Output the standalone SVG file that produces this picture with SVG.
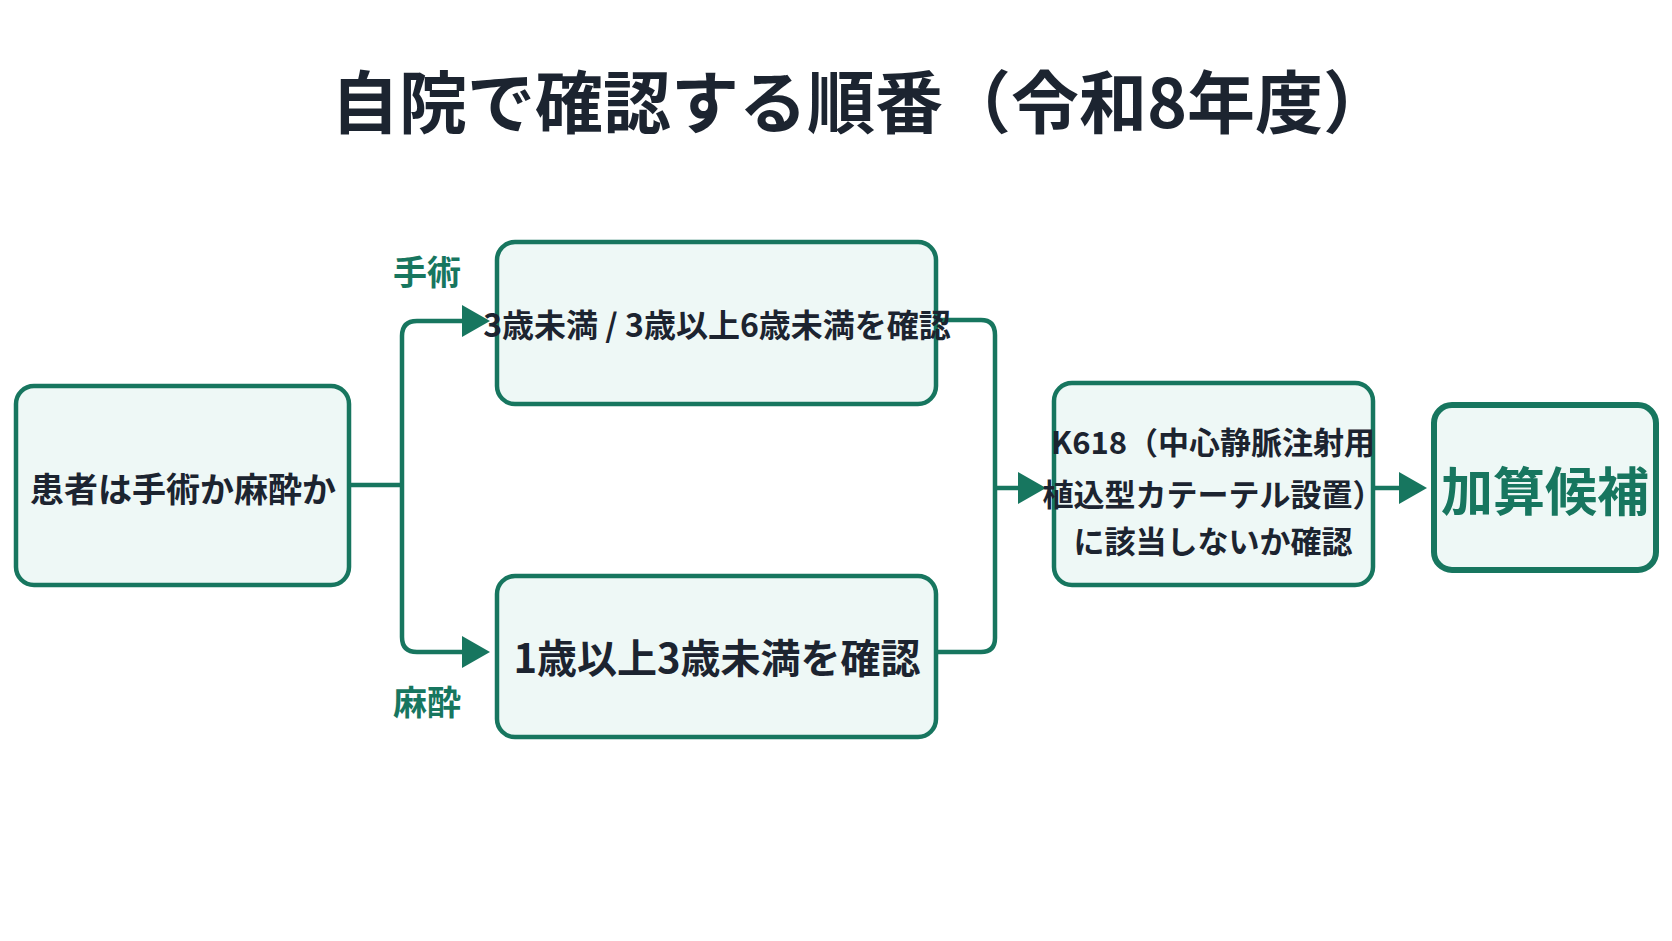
<svg xmlns="http://www.w3.org/2000/svg" width="1672" height="941" viewBox="0 0 1672 941">
<defs>
<style>
.box{fill:#eef8f6;stroke:#17765f;stroke-width:4.5}
.t{font-family:"Noto Sans CJK JP","Noto Sans",sans-serif;font-weight:700;fill:#1c2430;text-anchor:middle;dominant-baseline:central}
.g{fill:#17765f}
.c{fill:none;stroke:#17765f;stroke-width:4.5;stroke-linejoin:round}
</style>
<marker id="ah" markerWidth="8" markerHeight="8" refX="5" refY="4" orient="auto" markerUnits="userSpaceOnUse" viewBox="0 0 8 8"><path d="M0,0 L8,4 L0,8 z" fill="#17765f"/></marker>
</defs>
<rect width="1672" height="941" fill="#ffffff"/>
<text class="t" x="861" y="98" font-size="68">自院で確認する順番（令和8年度）</text>
<g id="connectors">
<path class="c" d="M349,485 H402"/>
<path class="c" d="M402,485 V336 Q402,321 417,321 H462"/>
<path class="c" d="M402,485 V637 Q402,652 417,652 H462"/>
<polygon class="g" points="462,305 490,321 462,337"/>
<polygon class="g" points="462,636 490,652 462,668"/>
<path class="c" d="M936,320 H981 Q995,320 995,335 V638 Q995,652 981,652 H936"/>
<path class="c" d="M995,488 H1018"/>
<polygon class="g" points="1018,472 1046,488 1018,504"/>
<path class="c" d="M1373,488 H1399"/>
<polygon class="g" points="1399,472 1427,488 1399,504"/>
<text class="t g" x="427" y="270" font-size="34" style="fill:#17765f">手術</text>
<text class="t g" x="427" y="700" font-size="34" style="fill:#17765f">麻酔</text>
</g>
<g id="n1"><rect class="box" x="16" y="386" width="333" height="199" rx="18"/><text class="t" x="183" y="487" font-size="34">患者は手術か麻酔か</text></g>
<g id="n2"><rect class="box" x="497" y="242" width="439" height="162" rx="18"/><text class="t" x="717" y="323" font-size="32">3歳未満 / 3歳以上6歳未満を確認</text></g>
<g id="n3"><rect class="box" x="497" y="576" width="439" height="161" rx="18"/><text class="t" x="717" y="656" font-size="40">1歳以上3歳未満を確認</text></g>
<g id="n4"><rect class="box" x="1054" y="383" width="319" height="202" rx="18"/>
<text class="t" x="1213" y="440" font-size="31">K618（中心静脈注射用</text>
<text class="t" x="1213" y="492" font-size="31">植込型カテーテル設置）</text>
<text class="t" x="1213" y="539" font-size="31">に該当しないか確認</text></g>
<g id="n5"><rect class="box" x="1434" y="405" width="222" height="165" rx="18" style="stroke-width:6"/><text class="t" x="1545" y="488" font-size="52" style="fill:#17765f">加算候補</text></g>
</svg>
